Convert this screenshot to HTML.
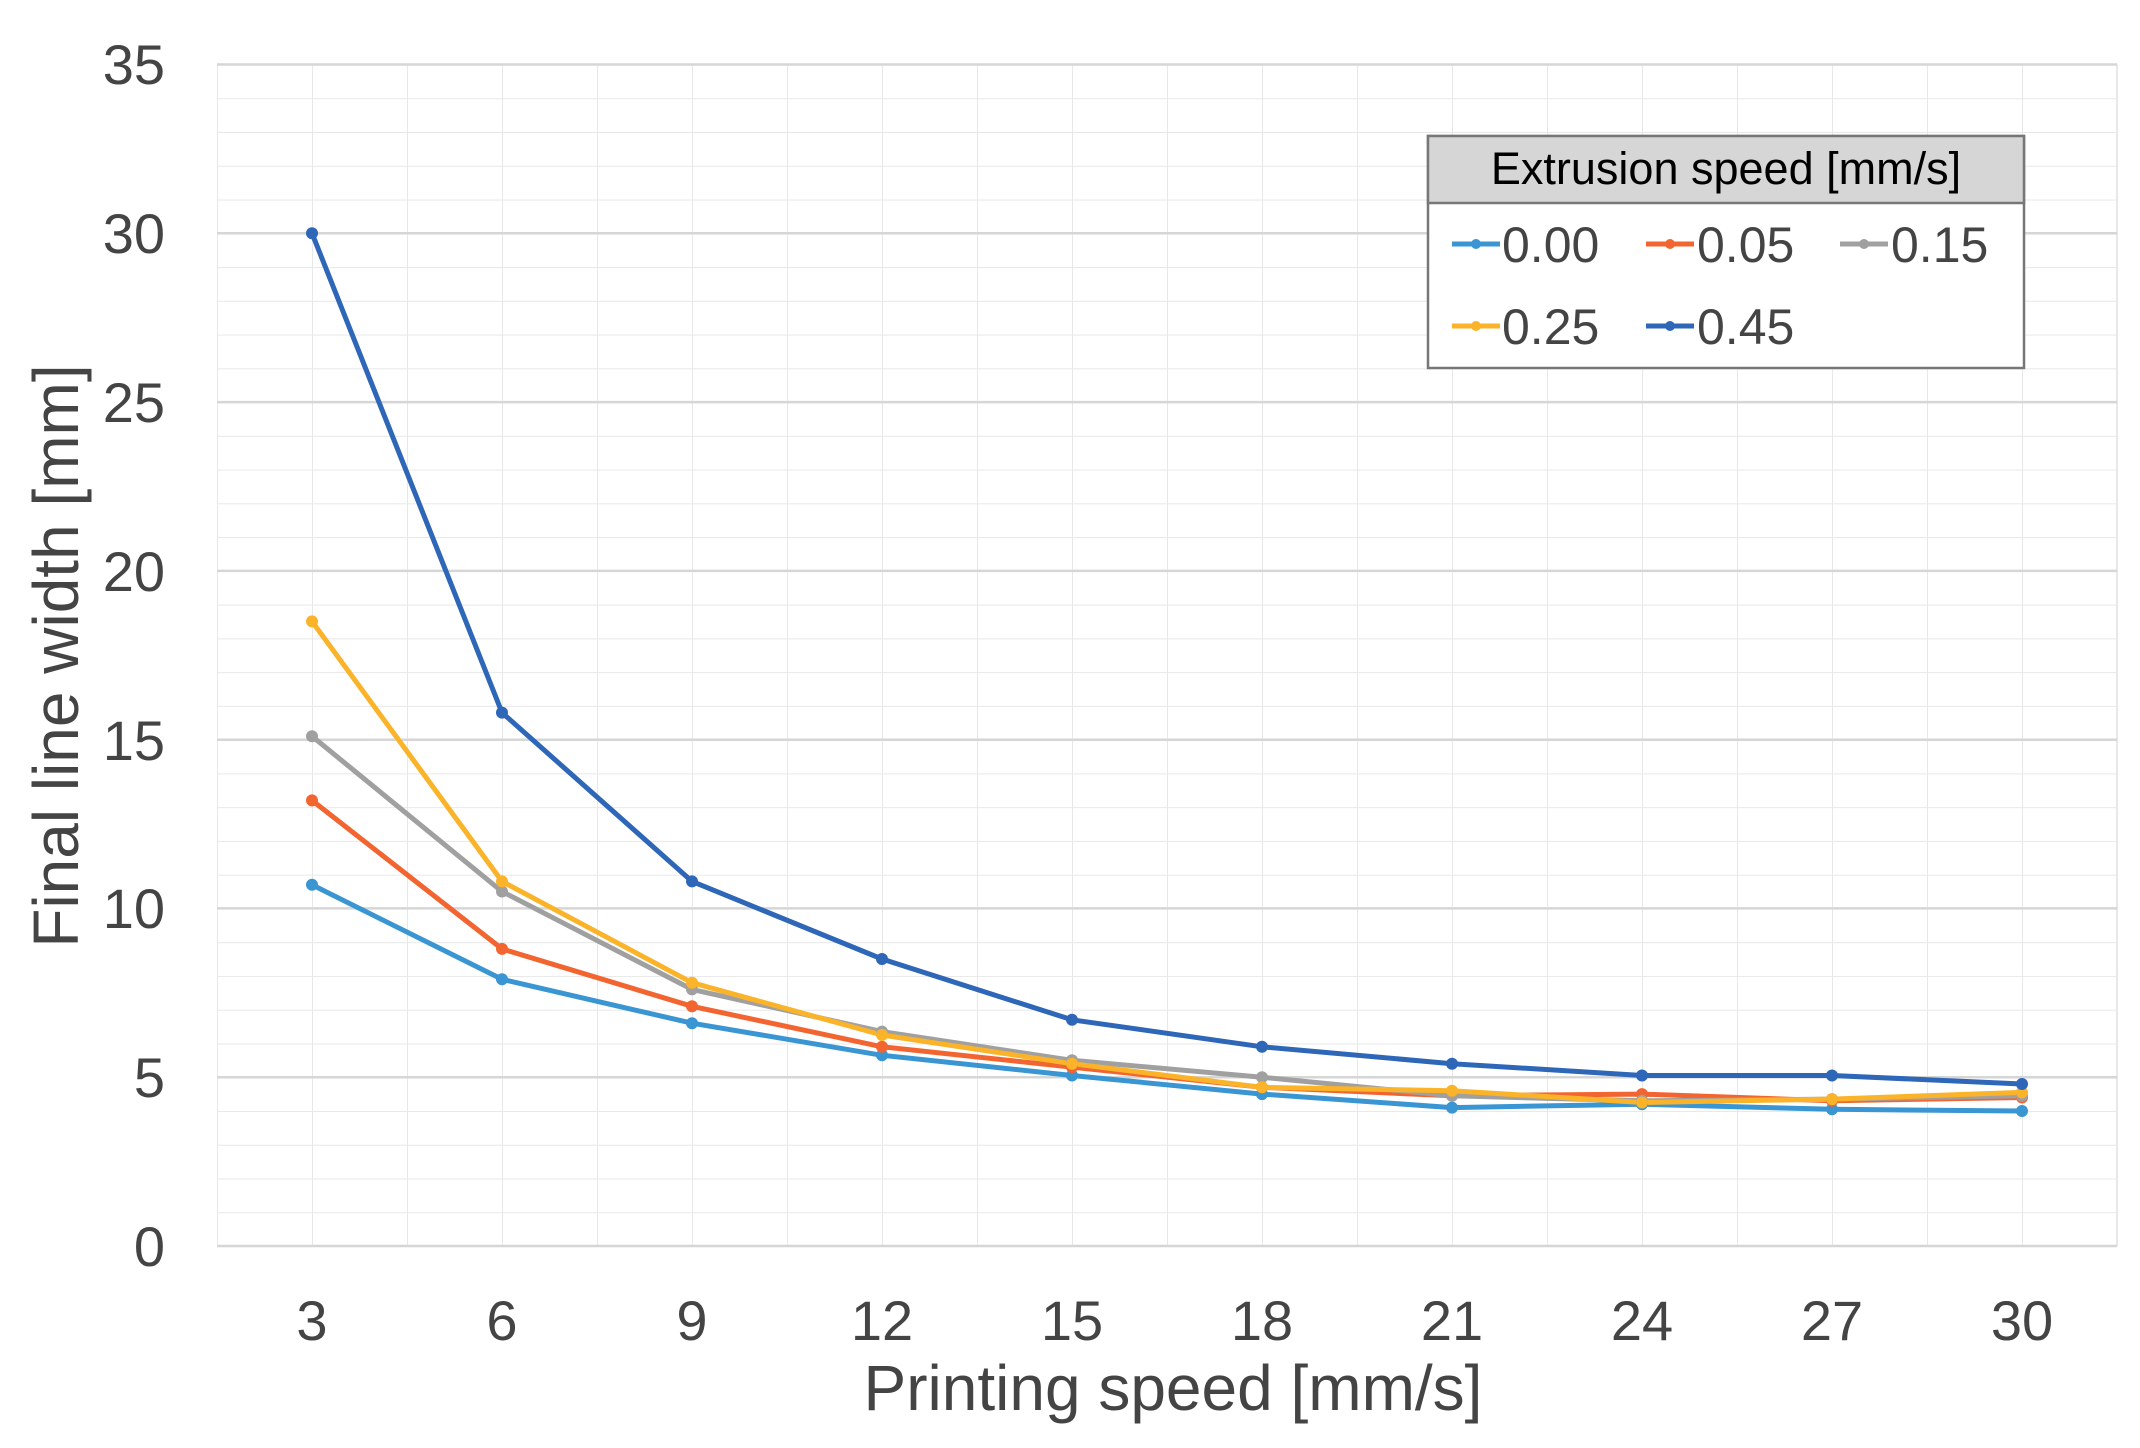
<!DOCTYPE html>
<html><head><meta charset="utf-8"><style>
html,body{margin:0;padding:0;background:#fff}
svg{display:block}
text{font-family:"Liberation Sans",Arial,sans-serif}
</style></head><body>
<svg width="2140" height="1448" viewBox="0 0 2140 1448" xmlns="http://www.w3.org/2000/svg">
<defs>
<pattern id="g" x="217" y="64.5" width="95" height="33.757" patternUnits="userSpaceOnUse">
<path d="M0 0 H95 M0 0 V33.757" stroke="#e8e8e8" stroke-width="2" fill="none"/>
</pattern>
</defs>
<rect x="217" y="64.5" width="1900" height="1181.5" fill="url(#g)"/>
<line x1="2117" y1="64.5" x2="2117" y2="1246" stroke="#e8e8e8" stroke-width="2"/>
<g stroke="#d6d6d6" stroke-width="2.5">
<line x1="217" x2="2117" y1="64.5" y2="64.5"/>
<line x1="217" x2="2117" y1="233.3" y2="233.3"/>
<line x1="217" x2="2117" y1="402.1" y2="402.1"/>
<line x1="217" x2="2117" y1="570.9" y2="570.9"/>
<line x1="217" x2="2117" y1="739.7" y2="739.7"/>
<line x1="217" x2="2117" y1="908.4" y2="908.4"/>
<line x1="217" x2="2117" y1="1077.2" y2="1077.2"/>
<line x1="217" x2="2117" y1="1246" y2="1246"/>
</g>
<g font-size="56" fill="#444" text-anchor="end">
<text x="165" y="84">35</text><text x="165" y="253">30</text><text x="165" y="422">25</text>
<text x="165" y="591">20</text><text x="165" y="760">15</text><text x="165" y="928">10</text>
<text x="165" y="1097">5</text><text x="165" y="1266">0</text>
</g>
<g font-size="56" fill="#444" text-anchor="middle">
<text x="312" y="1340">3</text><text x="502" y="1340">6</text><text x="692" y="1340">9</text>
<text x="882" y="1340">12</text><text x="1072" y="1340">15</text><text x="1262" y="1340">18</text>
<text x="1452" y="1340">21</text><text x="1642" y="1340">24</text><text x="1832" y="1340">27</text>
<text x="2022" y="1340">30</text>
</g>
<text x="1173" y="1410" font-size="64" fill="#444" text-anchor="middle">Printing speed [mm/s]</text>
<text transform="translate(78,656) rotate(-90)" font-size="64" fill="#444" text-anchor="middle">Final line width [mm]</text>
<g fill="none" stroke-width="5" stroke-linejoin="round">
<polyline stroke="#3a95d3" points="312,884.8 502,979.3 692,1023.2 882,1055.3 1072,1075.5 1262,1094.1 1452,1107.6 1642,1104.2 1832,1109.3 2022,1111"/>
<polyline stroke="#f26531" points="312,800.4 502,948.9 692,1006.3 882,1046.8 1072,1067.1 1262,1087.3 1452,1095.8 1642,1094.1 1832,1100.8 2022,1097.5"/>
<polyline stroke="#a0a0a0" points="312,736.2 502,891.5 692,989.4 882,1031.6 1072,1060.3 1262,1077.2 1452,1095.8 1642,1100.8 1832,1099.1 2022,1095.8"/>
<polyline stroke="#fbb32a" points="312,621.4 502,881.4 692,982.7 882,1035 1072,1063.7 1262,1087.3 1452,1090.7 1642,1102.5 1832,1099.1 2022,1092.4"/>
<polyline stroke="#2e66b8" points="312,233.2 502,712.6 692,881.4 882,959 1072,1019.8 1262,1046.8 1452,1063.7 1642,1075.5 1832,1075.5 2022,1084"/>
</g>
<g fill="#3a95d3"><circle cx="312" cy="884.8" r="6"/><circle cx="502" cy="979.3" r="6"/><circle cx="692" cy="1023.2" r="6"/><circle cx="882" cy="1055.3" r="6"/><circle cx="1072" cy="1075.5" r="6"/><circle cx="1262" cy="1094.1" r="6"/><circle cx="1452" cy="1107.6" r="6"/><circle cx="1642" cy="1104.2" r="6"/><circle cx="1832" cy="1109.3" r="6"/><circle cx="2022" cy="1111" r="6"/></g>
<g fill="#f26531"><circle cx="312" cy="800.4" r="6"/><circle cx="502" cy="948.9" r="6"/><circle cx="692" cy="1006.3" r="6"/><circle cx="882" cy="1046.8" r="6"/><circle cx="1072" cy="1067.1" r="6"/><circle cx="1262" cy="1087.3" r="6"/><circle cx="1452" cy="1095.8" r="6"/><circle cx="1642" cy="1094.1" r="6"/><circle cx="1832" cy="1100.8" r="6"/><circle cx="2022" cy="1097.5" r="6"/></g>
<g fill="#a0a0a0"><circle cx="312" cy="736.2" r="6"/><circle cx="502" cy="891.5" r="6"/><circle cx="692" cy="989.4" r="6"/><circle cx="882" cy="1031.6" r="6"/><circle cx="1072" cy="1060.3" r="6"/><circle cx="1262" cy="1077.2" r="6"/><circle cx="1452" cy="1095.8" r="6"/><circle cx="1642" cy="1100.8" r="6"/><circle cx="1832" cy="1099.1" r="6"/><circle cx="2022" cy="1095.8" r="6"/></g>
<g fill="#fbb32a"><circle cx="312" cy="621.4" r="6"/><circle cx="502" cy="881.4" r="6"/><circle cx="692" cy="982.7" r="6"/><circle cx="882" cy="1035" r="6"/><circle cx="1072" cy="1063.7" r="6"/><circle cx="1262" cy="1087.3" r="6"/><circle cx="1452" cy="1090.7" r="6"/><circle cx="1642" cy="1102.5" r="6"/><circle cx="1832" cy="1099.1" r="6"/><circle cx="2022" cy="1092.4" r="6"/></g>
<g fill="#2e66b8"><circle cx="312" cy="233.2" r="6"/><circle cx="502" cy="712.6" r="6"/><circle cx="692" cy="881.4" r="6"/><circle cx="882" cy="959" r="6"/><circle cx="1072" cy="1019.8" r="6"/><circle cx="1262" cy="1046.8" r="6"/><circle cx="1452" cy="1063.7" r="6"/><circle cx="1642" cy="1075.5" r="6"/><circle cx="1832" cy="1075.5" r="6"/><circle cx="2022" cy="1084" r="6"/></g>
<rect x="1428" y="136" width="596" height="232" fill="#fff" stroke="#777" stroke-width="2.5"/>
<rect x="1428" y="136" width="596" height="67" fill="#d6d6d6" stroke="#777" stroke-width="2.5"/>
<text x="1726" y="184" font-size="45" fill="#000" text-anchor="middle">Extrusion speed [mm/s]</text>
<g stroke-width="5">
<line x1="1452" x2="1500" y1="244" y2="244" stroke="#3a95d3"/>
<line x1="1646" x2="1694" y1="244" y2="244" stroke="#f26531"/>
<line x1="1840" x2="1888" y1="244" y2="244" stroke="#a0a0a0"/>
<line x1="1452" x2="1500" y1="326" y2="326" stroke="#fbb32a"/>
<line x1="1646" x2="1694" y1="326" y2="326" stroke="#2e66b8"/>
</g>
<circle cx="1476" cy="244" r="5" fill="#3a95d3"/><circle cx="1670" cy="244" r="5" fill="#f26531"/><circle cx="1864" cy="244" r="5" fill="#a0a0a0"/>
<circle cx="1476" cy="326" r="5" fill="#fbb32a"/><circle cx="1670" cy="326" r="5" fill="#2e66b8"/>
<g font-size="50" fill="#444">
<text x="1502" y="262">0.00</text><text x="1697" y="262">0.05</text><text x="1891" y="262">0.15</text>
<text x="1502" y="344">0.25</text><text x="1697" y="344">0.45</text>
</g>
</svg>
</body></html>
